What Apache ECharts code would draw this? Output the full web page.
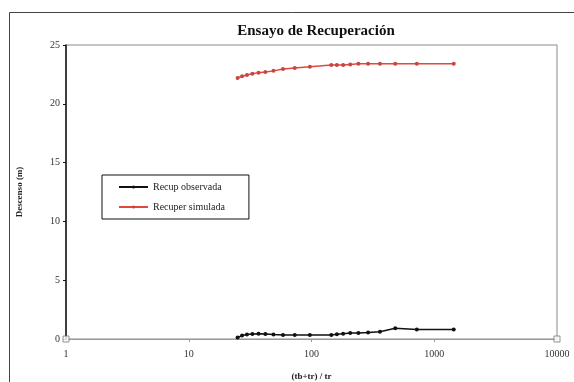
<!DOCTYPE html>
<html>
<head>
<meta charset="utf-8">
<script src="https://cdn.jsdelivr.net/npm/echarts@6/dist/echarts.min.js"></script>
<style>
  html, body { margin: 0; padding: 0; background: #fff; }
  #chart { width: 574px; height: 382px; }
</style>
</head>
<body>
<div id="chart"></div>
<script>
// (tb+tr)/tr values of the recovery readings
const razonTiempo = [25, 27.2, 29.8, 33, 37, 42.1, 49, 58.6, 73, 97, 145, 161, 181, 206.7, 241, 289, 361, 481, 721, 1441];
// observed drawdown (m)
const recupObservada = [0.12, 0.3, 0.38, 0.42, 0.45, 0.42, 0.38, 0.35, 0.33, 0.33, 0.35, 0.4, 0.45, 0.5, 0.52, 0.55, 0.62, 0.92, 0.8, 0.8];
// simulated drawdown (m)
const recupSimulada = [22.2, 22.35, 22.45, 22.55, 22.65, 22.7, 22.8, 22.95, 23.05, 23.15, 23.3, 23.3, 23.3, 23.35, 23.4, 23.4, 23.4, 23.4, 23.4, 23.4];
// axis range corner markers
const rangoX = [1, 10000];
const rangoY = [0, 0];
const ticksY = [0, 5, 10, 15, 20, 25];

const serif = '"Liberation Serif", "Times New Roman", serif';
const pares = (xs, ys) => xs.map((x, i) => [x, ys[i]]);

const chart = echarts.init(document.getElementById('chart'), null, { renderer: 'canvas' });
chart.setOption({
  animation: false,
  backgroundColor: '#ffffff',
  title: {
    text: 'Ensayo de Recuperación',
    left: 311, top: 19, textAlign: 'center',
    textStyle: { fontFamily: serif, fontSize: 15, fontWeight: 'bold', color: '#111' }
  },
  graphic: [{
    type: 'rect', silent: true, z: -1,
    shape: { x: 9.5, y: 12.5, width: 700, height: 500 },
    style: { fill: 'none', stroke: '#444', lineWidth: 1 }
  }],
  grid: {
    left: 66, right: 17, top: 45, bottom: 43,
    outerBoundsMode: 'none', containLabel: false,
    show: true, borderColor: '#8a8a8a', borderWidth: 1, backgroundColor: '#fff'
  },
  legend: {
    left: 102, top: 175, orient: 'vertical',
    borderColor: '#111', borderWidth: 1, backgroundColor: '#fff',
    padding: [7, 24, 7, 16], itemGap: 10, itemWidth: 29, itemHeight: 4,
    textStyle: { fontFamily: serif, fontSize: 10, color: '#222' },
    data: ['Recup observada', 'Recuper simulada']
  },
  xAxis: {
    type: 'log', logBase: 10, min: 1, max: 10000,
    name: '(tb+tr) / tr', nameLocation: 'middle', nameGap: 33,
    nameTextStyle: { fontFamily: serif, fontSize: 9, fontWeight: 'bold', color: '#222' },
    axisLine: { lineStyle: { color: '#999', width: 1 } },
    axisTick: { show: true, length: 3, lineStyle: { color: '#999' } },
    minorTick: { show: false },
    splitLine: { show: false },
    axisLabel: {
      fontFamily: serif, fontSize: 10, color: '#333', margin: 10,
      formatter: v => String(Math.round(v))
    }
  },
  yAxis: {
    type: 'value', min: 0, max: 25, interval: 5,
    name: 'Descenso (m)', nameLocation: 'middle', nameGap: 42, nameRotate: 90,
    nameTextStyle: { fontFamily: serif, fontSize: 9, fontWeight: 'bold', color: '#222' },
    axisLine: { show: true, lineStyle: { color: '#111', width: 1.5 } },
    axisTick: { show: true, length: 3, lineStyle: { color: '#111' } },
    splitLine: { show: false },
    axisLabel: {
      fontFamily: serif, fontSize: 10, color: '#333', margin: 6,
      formatter: v => ticksY.includes(v) ? String(v) : ''
    }
  },
  series: [
    {
      name: 'Recup observada', type: 'line',
      data: pares(razonTiempo, recupObservada),
      symbol: 'circle', symbolSize: 4, showAllSymbol: true,
      lineStyle: { color: '#111', width: 1.5 },
      itemStyle: { color: '#111' }
    },
    {
      name: 'Recuper simulada', type: 'line',
      data: pares(razonTiempo, recupSimulada),
      symbol: 'circle', symbolSize: 4, showAllSymbol: true,
      lineStyle: { color: '#e0483c', width: 1.5 },
      itemStyle: { color: '#c8463e' }
    },
    {
      name: 'rango', type: 'scatter',
      data: pares(rangoX, rangoY),
      symbol: 'rect', symbolSize: 6, z: 5,
      itemStyle: { color: '#fff', borderColor: '#777', borderWidth: 1 }
    }
  ]
});
</script>
</body>
</html>
